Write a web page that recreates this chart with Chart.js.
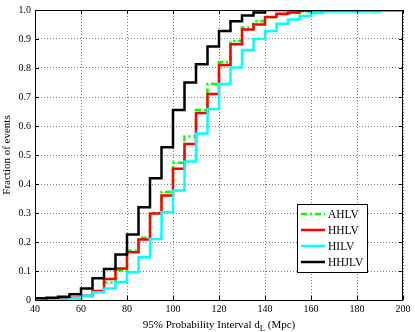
<!DOCTYPE html>
<html>
<head>
<meta charset="utf-8">
<script src="https://cdn.jsdelivr.net/npm/chart.js@4.4.0/dist/chart.umd.min.js"></script>
<style>
html, body { margin: 0; padding: 0; background: #fff; }
#wrap { width: 415px; height: 332px; }
</style>
</head>
<body>
<div id="wrap"><canvas id="myChart" width="415" height="332"></canvas></div>
<script>
// bin edges (Mpc) shared by every curve
var binEdges = [40, 45, 50, 55, 60, 65, 70, 75, 80, 85, 90, 95, 100, 105, 110, 115, 120,
    125, 130, 135, 140, 145, 150, 155, 160, 165, 170, 175, 180, 185, 190, 195, 200]

var ahlv = [0, 0.002, 0.003, 0.005, 0.013, 0.03, 0.06, 0.103, 0.17, 0.215, 0.3, 0.372, 0.473,
    0.564, 0.655, 0.745, 0.82, 0.893, 0.94, 0.961, 0.975, 0.985, 0.99, 0.995, 0.998,
    1, 1, 1, 1, 1, 1, 1, 1]
var hhlv = [0.002, 0.003, 0.005, 0.008, 0.015, 0.031, 0.072, 0.109, 0.165, 0.209, 0.298, 0.36,
    0.453, 0.538, 0.645, 0.71, 0.81, 0.882, 0.933, 0.95, 0.976, 0.987, 0.991, 0.997,
    1, 1, 1, 1, 1, 1, 1, 1, 1]
var hilv = [0, 0, 0.001, 0.006, 0.015, 0.027, 0.04, 0.062, 0.096, 0.147, 0.21, 0.303, 0.378,
    0.478, 0.574, 0.659, 0.745, 0.802, 0.862, 0.9, 0.928, 0.953, 0.967, 0.979, 0.99,
    0.995, 0.995, 0.995, 0.995, 0.995, 1, 1, 1]
var hhjlv = [0.006, 0.008, 0.011, 0.02, 0.04, 0.075, 0.107, 0.157, 0.226, 0.32, 0.42, 0.527,
    0.655, 0.75, 0.813, 0.874, 0.928, 0.961, 0.981, 0.991,
    1, 1, 1, 1, 1, 1, 1, 1, 1, 1, 1, 1, 1]

var seriesNames = ["AHLV", "HHLV", "HILV", "HHJLV"]
var seriesColors = ["#00ff00", "#ff0000", "#00ffff", "#000000"]
var seriesDash = [[6, 3, 2, 3], [], [], []]

var xTitle = "95% Probability Interval d"
var xTitleSub = "L"
var xTitleEnd = " (Mpc)"
var yTitle = "Fraction of events"

const serif = "'Liberation Serif', 'Times New Roman', serif"

function toPoints(values) {
    return values.map((v, i) => ({ x: binEdges[i], y: v }))
}

// box, inward ticks, x title with subscript and the legend
const matlabFrame = {
    id: 'matlabFrame',
    afterDatasetsDraw(chart) {
        const ctx = chart.ctx
        const a = chart.chartArea
        const xs = chart.scales.x
        const ys = chart.scales.y
        ctx.save()
        ctx.strokeStyle = '#000'
        ctx.lineWidth = 1
        ctx.strokeRect(a.left + 0.5, a.top + 0.5, a.right - a.left - 1, a.bottom - a.top)
        ctx.beginPath()
        xs.ticks.forEach(t => {
            let px = Math.round(xs.getPixelForValue(t.value)) + 0.5
            ctx.moveTo(px, a.bottom); ctx.lineTo(px, a.bottom - 4)
            ctx.moveTo(px, a.top); ctx.lineTo(px, a.top + 4)
        })
        ys.ticks.forEach(t => {
            let py = Math.round(ys.getPixelForValue(t.value)) + 0.5
            ctx.moveTo(a.left, py); ctx.lineTo(a.left + 4, py)
            ctx.moveTo(a.right, py); ctx.lineTo(a.right - 4, py)
        })
        ctx.stroke()
        ctx.restore()
    },
    afterDraw(chart) {
        const ctx = chart.ctx
        const a = chart.chartArea
        ctx.save()
        // x title
        ctx.fillStyle = '#000'
        ctx.textBaseline = 'alphabetic'
        ctx.font = "11px " + serif
        let w1 = ctx.measureText(xTitle).width
        let w3 = ctx.measureText(xTitleEnd).width
        ctx.font = "8.5px " + serif
        let w2 = ctx.measureText(xTitleSub).width
        let total = w1 + w2 + w3
        let x0 = (a.left + a.right) / 2 - total / 2
        let y0 = 328
        ctx.font = "11px " + serif
        ctx.fillText(xTitle, x0, y0)
        ctx.font = "8.5px " + serif
        ctx.fillText(xTitleSub, x0 + w1, y0 + 3)
        ctx.font = "11px " + serif
        ctx.fillText(xTitleEnd, x0 + w1 + w2, y0)

        // legend box
        let bw = 70, bh = 68
        let bx = a.right - 36 - bw
        let by = a.bottom - 28 - bh
        ctx.fillStyle = '#fff'
        ctx.fillRect(bx, by, bw, bh)
        ctx.strokeStyle = '#000'
        ctx.lineWidth = 1
        ctx.strokeRect(bx + 0.5, by + 0.5, bw, bh)
        ctx.font = "11.5px " + serif
        ctx.textBaseline = 'middle'
        for (let i = 0; i < seriesNames.length; i++) {
            let ry = by + 10 + i * 16
            ctx.beginPath()
            ctx.setLineDash(seriesDash[i])
            ctx.strokeStyle = seriesColors[i]
            ctx.lineWidth = 2.5
            ctx.moveTo(bx + 4, ry)
            ctx.lineTo(bx + 28, ry)
            ctx.stroke()
            ctx.setLineDash([])
            ctx.fillStyle = '#000'
            ctx.fillText(seriesNames[i], bx + 31, ry + 1)
        }
        ctx.restore()
    }
}

function createChart() {
    let allValues = [ahlv, hhlv, hilv, hhjlv]
    let datasets = []
    for (let i = 0; i < allValues.length; i++) {
        datasets.push({
            label: seriesNames[i],
            data: toPoints(allValues[i]),
            borderColor: seriesColors[i],
            borderDash: seriesDash[i],
            borderWidth: 2.5,
            stepped: true,
            pointRadius: 0,
            fill: false,
            order: allValues.length - i
        })
    }
    const chartConfig = {
        type: 'line',
        data: { datasets: datasets },
        options: {
            responsive: false,
            animation: false,
            layout: { padding: { top: 9, right: 12, left: 0, bottom: 0 } },
            plugins: {
                legend: { display: false },
                tooltip: { enabled: false }
            },
            scales: {
                x: {
                    type: 'linear',
                    min: 40,
                    max: 200,
                    afterFit: s => { s.height = 32 },
                    ticks: {
                        stepSize: 20,
                        padding: 3,
                        color: '#000',
                        font: { family: serif, size: 10 }
                    },
                    grid: { color: '#808080', drawTicks: false },
                    border: { display: false, dash: [1, 2] }
                },
                y: {
                    min: 0,
                    max: 1,
                    afterFit: s => { s.width = 35 },
                    ticks: {
                        stepSize: 0.1,
                        padding: 4,
                        color: '#000',
                        font: { family: serif, size: 10 }
                    },
                    grid: { color: '#808080', drawTicks: false },
                    border: { display: false, dash: [1, 2] },
                    title: {
                        display: true,
                        text: yTitle,
                        color: '#000',
                        padding: { top: 1, bottom: 0 },
                        font: { family: serif, size: 11 }
                    }
                }
            }
        },
        plugins: [matlabFrame]
    }
    new Chart(document.getElementById('myChart'), chartConfig)
}

createChart()
</script>
</body>
</html>
